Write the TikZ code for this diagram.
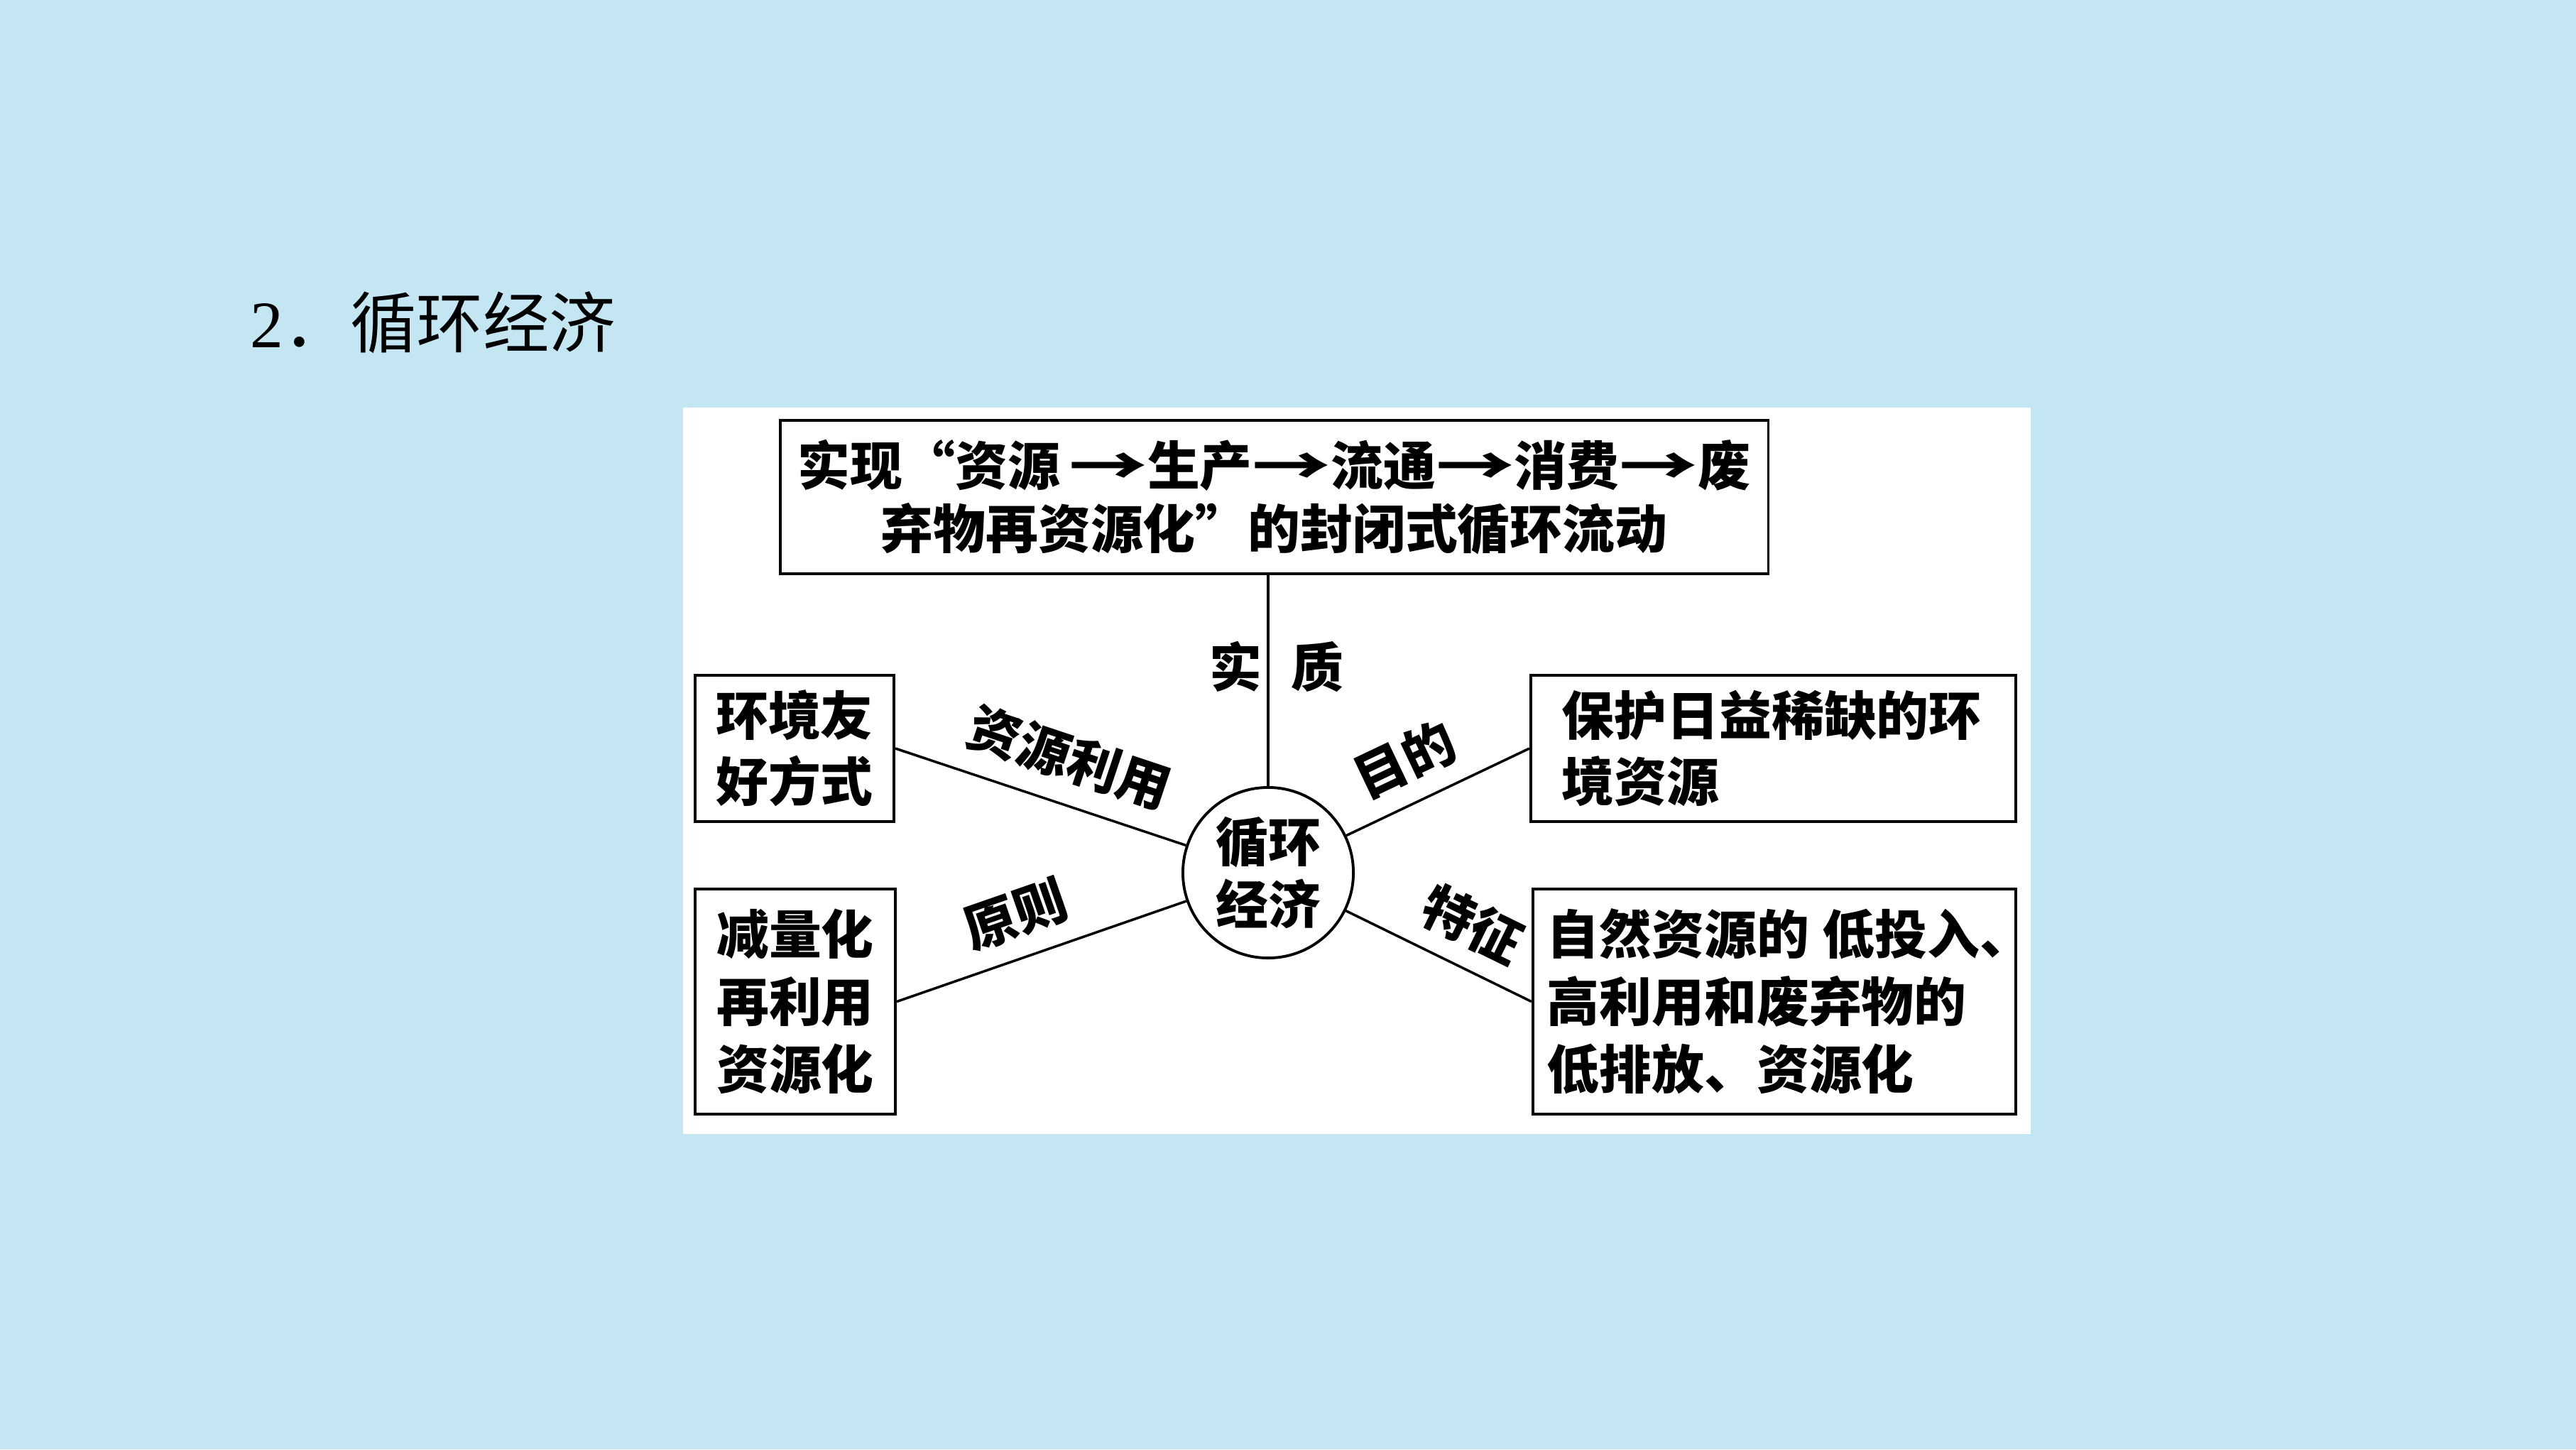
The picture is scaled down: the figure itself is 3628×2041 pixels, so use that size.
\documentclass[tikz,border=0pt]{standalone}
\usepackage{fontspec}
\newfontfamily\cjk{Noto Sans CJK SC}
\newfontfamily\latinfont{Liberation Serif}
\usepackage{tikz}
\usetikzlibrary{calc}
\definecolor{bgblue}{RGB}{196,230,242}
\newcommand{\flowto}{\scalebox{1.5}[1]{→}}
\tikzset{
  box/.style={draw, line width=1.1pt, fill=white, inner sep=0pt,
    font=\cjk\bfseries\fontsize{21}{26.5}\selectfont},
  lbl/.style={font=\cjk\bfseries\fontsize{21}{26}\selectfont, inner sep=3pt},
  lnk/.style={line width=1pt}
}

\begin{document}
\begin{tikzpicture}[x=0.01cm,y=-0.01cm]
  \fill[bgblue] (0,0) rectangle (3628,2041);
  \fill[white] (962,574) rectangle (2860,1597);
  \node[anchor=base west, inner sep=0pt, font=\fontsize{26.6}{30}\selectfont] (title) at (352,489)
    {\latinfont 2\cjk ．循环经济};
  \node[box, minimum width=13.91cm, minimum height=2.16cm, align=center,
    font=\cjk\bfseries\fontsize{21}{25.5}\selectfont] (top) at (1794.5,700)
    {实现“资源\,\flowto 生产\flowto 流通\flowto 消费\flowto 废\\弃物再资源化”的封闭式循环流动};
  \node[box, circle, minimum size=2.4cm, align=center,
    font=\cjk\bfseries\fontsize{21}{25}\selectfont] (circ) at (1786,1229) {循环\\经济};
  \node[box, minimum width=2.8cm, minimum height=2.06cm, align=center] (lt) at (1119,1054)
    {环境友\\好方式};
  \node[box, minimum width=2.82cm, minimum height=3.17cm, align=center,
    font=\cjk\bfseries\fontsize{21}{27}\selectfont] (lb) at (1120,1410.5)
    {减量化\\再利用\\资源化};
  \node[box, minimum height=2.06cm, text width=5.95cm, inner xsep=0.44cm, align=left] (rt)
    at (2497.5,1054) {保护日益稀缺的环\\境资源};
  \node[box, minimum height=3.17cm, text width=6.4cm, inner xsep=0.2cm, align=left,
    font=\cjk\bfseries\fontsize{21}{27}\selectfont] (rb) at (2499,1410.5)
    {\mbox{自然资源的\hspace{0.25em}低投入\makebox[0.5em][l]{、}}\\高利用和废弃物的\\低排放、资源化};

  \draw[lnk] (circ) -- node[lbl, pos=0.565, xshift=0.12cm] {实\hspace{0.55em}质} (circ |- top.south);
  \draw[lnk] (lt.east) -- node[lbl, sloped, above=5pt, pos=0.55] {资源利用} (circ);
  \draw[lnk] (lb.east) -- node[lbl, sloped, above=4pt, pos=0.46] {原则} (circ);
  \draw[lnk] (circ) -- node[lbl, sloped, above=4pt, pos=0.42] {目的} (rt.west);
  \draw[lnk] (circ) -- node[lbl, sloped, above=4pt, pos=0.58] {特征} (rb.west);
\end{tikzpicture}
\end{document}
